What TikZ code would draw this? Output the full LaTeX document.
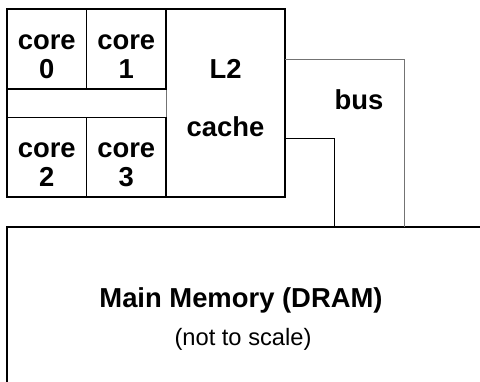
\documentclass[tikz,border=0pt]{standalone}
\usepackage{fontspec}
\setmainfont{Liberation Sans}
\usetikzlibrary{calc}

\begin{document}
\begin{tikzpicture}[x=0.5pt,y=-0.5pt,
  box/.style={draw, line width=0.75pt, inner sep=0pt, outer sep=0pt},
  bold/.style={font=\fontsize{13.7}{14.5}\selectfont\bfseries, align=center},
  small/.style={font=\fontsize{11.85}{14}\selectfont}]
  % page
  \clip (0,0) rectangle (480,381);

  % L2 (grey edge in the gap row)
  \node[box, draw=black!55, line width=0.5pt, minimum width=59.5pt, minimum height=94pt] (l2) at (225.5,103) {};
  % chip frame
  \node[box, minimum width=139pt, minimum height=94pt] (cpu) at (146,103) {};
  \draw[line width=0.75pt] (l2.north west) -- (l2.south west |- 0,89);
  \draw[line width=0.75pt] (l2.south west) -- (l2.south west |- 0,118);

  % cores
  \def\cw{39.75pt}
  \def\ch{40pt}
  \node[box, minimum width=\cw, minimum height=\ch] (core0) at (46.75,49) {};
  \node[box, minimum width=\cw, minimum height=\ch] (core1) at (126.25,49) {};
  \node[box, minimum width=\cw, minimum height=\ch] (core2) at (46.75,157.5) {};
  \node[box, minimum width=\cw, minimum height=\ch] (core3) at (126.25,157.5) {};

  % labels
  \node[bold] (c0) at (46.75,56.5) {core\\0};
  \node[bold] (c1) at (126.25,56.5) {core\\1};
  \node[bold] (c2) at (46.75,164.3) {core\\2};
  \node[bold] (c3) at (126.25,164.3) {core\\3};
  \node[bold] (l2txt) at (225.5,98.2) {L2\\[14.5pt]cache};

  % main memory
  \node[box, anchor=north west, minimum width=300pt, minimum height=120pt] (mem) at (7,227) {};
  \node[bold, anchor=base] (memname) at (241,307) {Main Memory (DRAM)};
  \node[small, anchor=base] (memnote) at (243,345) {(not to scale)};

  % bus
  \draw[line width=0.5pt, black!55] (cpu.east |- 0,59) -| (404,0 |- mem.north);
  \draw[line width=0.5pt] (cpu.east |- 0,138) -| (334,0 |- mem.north);
  \node[bold] (bus) at (359,100) {bus};
\end{tikzpicture}
\end{document}
